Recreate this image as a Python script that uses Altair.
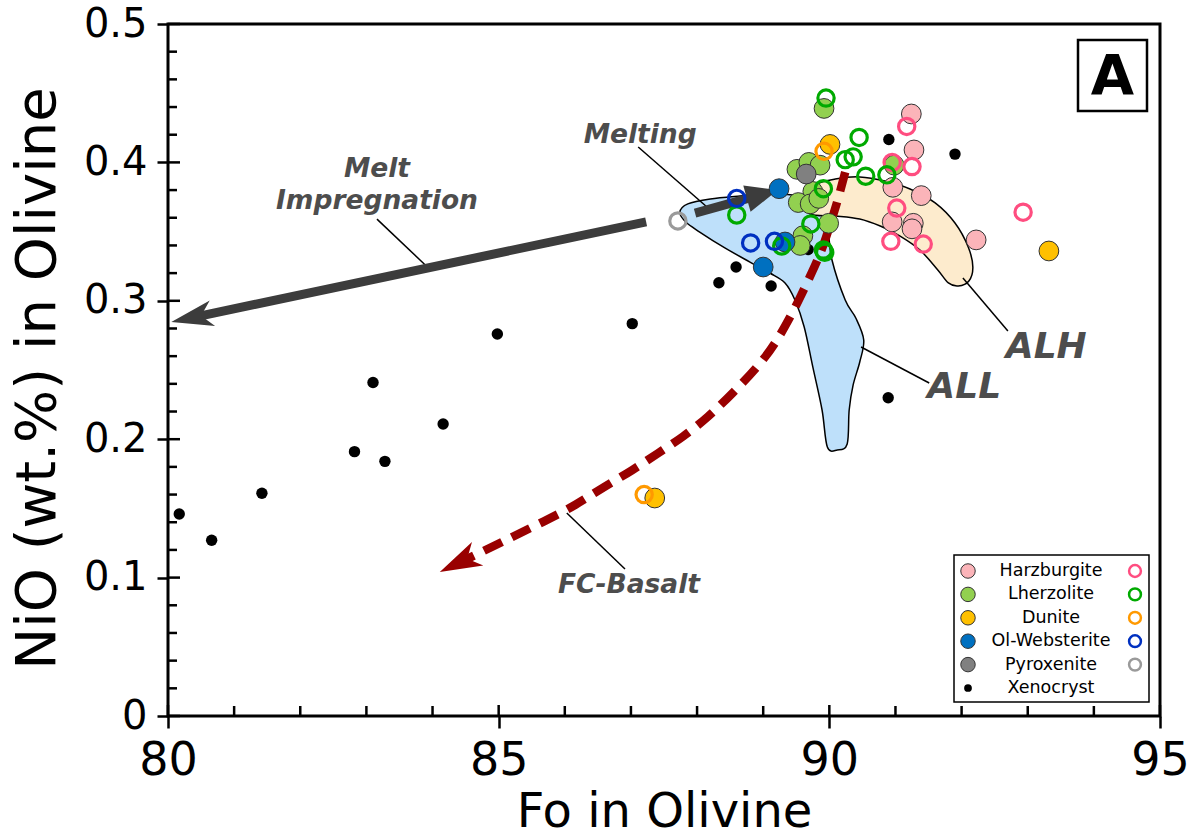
import math
import altair as alt
import pandas as pd

# ------------------------------------------------------------------ data
rock_types = ["Harzburgite", "Lherzolite", "Dunite", "Ol-Websterite", "Pyroxenite"]
fill_colors = ["#FBB4B9", "#92D050", "#FFC000", "#0070C0", "#808080"]
ring_colors = ["#FF4D80", "#00AA00", "#FF9900", "#0030C0", "#9A9A9A"]

harz_filled_fo = [91.24, 91.28, 90.96, 91.39, 90.95, 91.27, 91.25, 92.22]
harz_filled_nio = [0.435, 0.409, 0.382, 0.376, 0.357, 0.356, 0.352, 0.344]
harz_open_fo = [91.17, 90.95, 91.25, 91.02, 90.93, 91.42, 92.93]
harz_open_nio = [0.426, 0.400, 0.397, 0.367, 0.343, 0.341, 0.364]

lherz_filled_fo = [89.92, 89.51, 89.69, 89.86, 90.98, 89.75, 89.53, 89.71, 89.84, 89.99, 89.60, 89.56]
lherz_filled_nio = [0.439, 0.395, 0.400, 0.398, 0.398, 0.379, 0.371, 0.370, 0.374, 0.356, 0.347, 0.340]
lherz_open_fo = [89.95, 90.45, 90.36, 90.24, 90.55, 90.87, 89.91, 88.60, 89.72, 89.28, 89.91, 89.93]
lherz_open_nio = [0.4465, 0.418, 0.404, 0.402, 0.390, 0.391, 0.381, 0.362, 0.3555, 0.3396, 0.3367, 0.335]

dun_filled_fo = [90.01, 87.36, 93.32]
dun_filled_nio = [0.413, 0.1575, 0.336]
dun_open_fo = [89.92, 87.20]
dun_open_nio = [0.408, 0.160]

web_filled_fo = [89.24, 89.33, 89.00]
web_filled_nio = [0.381, 0.3425, 0.3244]
web_open_fo = [88.60, 88.81, 89.17]
web_open_nio = [0.374, 0.3418, 0.343]

pyx_filled_fo = [89.65]
pyx_filled_nio = [0.3916]
pyx_open_fo = [87.71]
pyx_open_nio = [0.3577]

xeno_fo = [80.17, 80.66, 81.42, 82.82, 83.10, 83.28, 84.16, 84.98, 87.02, 88.33,
           88.59, 89.12, 89.68, 90.89, 90.90, 91.90]
xeno_nio = [0.146, 0.127, 0.161, 0.191, 0.241, 0.184, 0.211, 0.276, 0.2835, 0.313,
            0.3244, 0.3107, 0.337, 0.230, 0.4165, 0.406]

# field outlines (ALL = blue, ALH = beige)
all_fo = [87.74, 87.86, 88.20, 88.65, 89.10, 89.56, 89.89, 89.98, 90.04, 90.24, 90.40,
          90.52, 90.46, 90.36, 90.30, 90.27, 90.12, 89.97, 89.89, 89.75, 89.62, 89.48,
          89.33, 89.10, 88.80, 88.42, 88.04, 87.83]
all_nio = [0.364, 0.370, 0.3736, 0.3757, 0.3772, 0.3757, 0.3692, 0.3512, 0.3295, 0.3006,
           0.2876, 0.2717, 0.2558, 0.2392, 0.2211, 0.1965, 0.1922, 0.1944, 0.2211, 0.2522,
           0.2811, 0.3006, 0.3129, 0.3201, 0.3280, 0.3382, 0.3497, 0.3569]
alh_fo = [89.63, 89.78, 90.09, 90.46, 90.84, 91.22, 91.60, 91.90, 92.10, 92.17, 92.11,
          91.95, 91.80, 91.64, 91.37, 91.07, 90.77, 90.46, 90.09, 89.71]
alh_nio = [0.3728, 0.3837, 0.3880, 0.3895, 0.3866, 0.3808, 0.3707, 0.3562, 0.3389, 0.3244,
           0.3143, 0.3107, 0.3129, 0.3223, 0.3367, 0.3468, 0.3540, 0.3591, 0.3613, 0.3627]

# arrows
fc_fo = [90.24, 90.13, 90.01, 89.89, 89.74, 89.57, 89.41, 89.19, 88.92, 88.54, 88.17,
         87.79, 87.41, 87.03, 86.59, 86.17, 85.73, 85.02, 84.11]
fc_nio = [0.393, 0.3728, 0.3548, 0.3367, 0.3208, 0.3035, 0.2883, 0.2695, 0.2522, 0.2334,
          0.2160, 0.2016, 0.1900, 0.1777, 0.1655, 0.1525, 0.1416, 0.125, 0.104]
mi_fo = [87.23, 80.05]
mi_nio = [0.357, 0.2847]
melt_fo = [87.97, 89.22]
melt_nio = [0.3634, 0.380]

# labels
small_labels = ["Melting", "Melt", "Impregnation", "FC-Basalt"]
small_fo = [87.14, 83.16, 83.16, 86.97]
small_nio = [0.4198, 0.3950, 0.3718, 0.0947]
big_labels = ["ALL", "ALH"]
big_fo = [92.04, 93.28]
big_nio = [0.2377, 0.2666]

leader_fo = [87.11, 83.16, 86.03, 90.48, 92.02]
leader_nio = [0.4111, 0.3590, 0.1467, 0.2666, 0.3165]
leader_fo2 = [88.15, 83.89, 86.91, 91.51, 92.70]
leader_nio2 = [0.3678, 0.3259, 0.1062, 0.2406, 0.2782]

x_major = [80, 85, 90, 95]
x_minor = [81, 82, 83, 84, 86, 87, 88, 89, 91, 92, 93, 94]
y_major = [0.0, 0.1, 0.2, 0.3, 0.4, 0.5]
y_minor = [0.02, 0.04, 0.06, 0.08, 0.12, 0.14, 0.16, 0.18, 0.22, 0.24, 0.26, 0.28,
           0.32, 0.34, 0.36, 0.38, 0.42, 0.44, 0.46, 0.48]

legend_names = rock_types + ["Xenocryst"]

# ------------------------------------------------------------------ layout
W, H = 992, 692
FO_MIN, FO_MAX = 80, 95
NIO_MIN, NIO_MAX = 0.0, 0.5
PX_X = W / (FO_MAX - FO_MIN)
PX_Y = H / (NIO_MAX - NIO_MIN)
FONT = "DejaVu Sans"
LABEL_GREY = "#4D4D4D"
ARROW_GREY = "#3C3C3C"
FC_RED = "#990000"

x_scale = alt.Scale(domain=[FO_MIN, FO_MAX], nice=False, zero=False)
y_scale = alt.Scale(domain=[NIO_MIN, NIO_MAX], nice=False, zero=False)

x_axis = alt.Axis(values=x_major, format="d", title="Fo in Olivine", grid=False, domain=False,
                  tickSize=12, tickWidth=2.5, tickColor="black", labelPadding=10,
                  labelFont=FONT, labelFontSize=46, labelColor="black", labelFlush=False,
                  titleFont=FONT, titleFontSize=48, titleFontWeight="normal", titleColor="black",
                  titleBaseline="alphabetic", titleY=110)
y_axis = alt.Axis(values=y_major, format=".1~f", title="NiO (wt.%) in Olivine", grid=False,
                  domain=False, tickSize=11, tickWidth=2.5, tickColor="black", labelPadding=10,
                  labelFont=FONT, labelFontSize=40, labelColor="black", labelFlush=False,
                  titleFont=FONT, titleFontSize=56, titleFontWeight="normal", titleColor="black",
                  titleAngle=270, titleAlign="center", titleBaseline="middle",
                  titleX=-131, titleY=354)


def X(field="Fo"):
    return alt.X(f"{field}:Q", scale=x_scale, axis=x_axis)


def Y(field="NiO"):
    return alt.Y(f"{field}:Q", scale=y_scale, axis=y_axis)


def arrow_parts(fo, nio, shorten_px):
    """Return the shortened shaft table and (tip, angle) for the head."""
    dx = (fo[-1] - fo[-2]) * PX_X
    dy = -(nio[-1] - nio[-2]) * PX_Y
    n = math.hypot(dx, dy)
    ux, uy = dx / n, dy / n
    angle = math.degrees(math.atan2(dx, -dy)) % 360
    shaft_fo = list(fo[:-1]) + [fo[-1] - ux * shorten_px / PX_X]
    shaft_nio = list(nio[:-1]) + [nio[-1] + uy * shorten_px / PX_Y]
    shaft = pd.DataFrame({"Fo": shaft_fo, "NiO": shaft_nio, "i": range(len(shaft_fo))})
    tip = pd.DataFrame({"Fo": [fo[-1]], "NiO": [nio[-1]]})
    return shaft, tip, angle


BARB = "M0,0 L0.62,2 L0,1.45 L-0.62,2 Z"
TRI = "M0,0 L0.85,2 L-0.85,2 Z"

layers = []

# fields
for f_fo, f_nio, col in [(all_fo, all_nio, "#BEE0FA"), (alh_fo, alh_nio, "#FDEBCD")]:
    dfp = pd.DataFrame({"Fo": f_fo, "NiO": f_nio, "i": range(len(f_fo))})
    layers.append(alt.Chart(dfp).mark_line(interpolate="cardinal-closed", fill=col,
                                           stroke="black", strokeWidth=1.5)
                  .encode(x=X(), y=Y(), order="i:Q"))

# leader lines
lead = pd.DataFrame({"Fo": leader_fo, "NiO": leader_nio, "Fo2": leader_fo2, "NiO2": leader_nio2})
layers.append(alt.Chart(lead).mark_rule(color="black", strokeWidth=1.5)
              .encode(x=X(), y=Y(), x2="Fo2:Q", y2="NiO2:Q"))

# arrows
for a_fo, a_nio, col, length, shape, shorten, dash, interp in [
    (mi_fo, mi_nio, ARROW_GREY, 42, BARB, 30, None, "linear"),
    (melt_fo, melt_nio, ARROW_GREY, 32, TRI, 28, None, "linear"),
    (fc_fo, fc_nio, FC_RED, 42, BARB, 28, [20, 11], "basis"),
]:
    shaft, tip, ang = arrow_parts(a_fo, a_nio, shorten)
    kw = dict(color=col, strokeWidth=9 if col == ARROW_GREY else 8.5, interpolate=interp,
              strokeCap="butt")
    if dash:
        kw["strokeDash"] = dash
    layers.append(alt.Chart(shaft).mark_line(**kw).encode(x=X(), y=Y(), order="i:Q"))
    layers.append(alt.Chart(tip).mark_point(shape=shape, filled=True, fill=col, strokeWidth=0,
                                            size=length * length, angle=ang, opacity=1)
                  .encode(x=X(), y=Y()))

# points
rows = []
groups = [
    ("Harzburgite", harz_filled_fo, harz_filled_nio, harz_open_fo, harz_open_nio),
    ("Lherzolite", lherz_filled_fo, lherz_filled_nio, lherz_open_fo, lherz_open_nio),
    ("Dunite", dun_filled_fo, dun_filled_nio, dun_open_fo, dun_open_nio),
    ("Ol-Websterite", web_filled_fo, web_filled_nio, web_open_fo, web_open_nio),
    ("Pyroxenite", pyx_filled_fo, pyx_filled_nio, pyx_open_fo, pyx_open_nio),
]
for rock, ffo, fni, ofo, oni in groups:
    for a, b in zip(ffo, fni):
        rows.append({"rock": rock, "Fo": a, "NiO": b, "style": "filled"})
    for a, b in zip(ofo, oni):
        rows.append({"rock": rock, "Fo": a, "NiO": b, "style": "open"})
pts = pd.DataFrame(rows)
xeno = pd.DataFrame({"Fo": xeno_fo, "NiO": xeno_nio})

fill_scale = alt.Scale(domain=rock_types, range=fill_colors)
ring_scale = alt.Scale(domain=rock_types, range=ring_colors)

layers.append(alt.Chart(xeno).mark_circle(size=130, color="black", opacity=1)
              .encode(x=X(), y=Y()))
layers.append(alt.Chart(pts[pts["style"] == "filled"])
              .mark_point(filled=True, size=390, stroke="#333333", strokeWidth=1, opacity=1)
              .encode(x=X(), y=Y(), fill=alt.Fill("rock:N", scale=fill_scale, legend=None)))
layers.append(alt.Chart(pts[pts["style"] == "open"])
              .mark_point(filled=False, size=265, strokeWidth=3.2, opacity=1)
              .encode(x=X(), y=Y(), stroke=alt.Stroke("rock:N", scale=ring_scale, legend=None)))

# annotation labels
lab_s = pd.DataFrame({"Fo": small_fo, "NiO": small_nio, "label": small_labels})
lab_b = pd.DataFrame({"Fo": big_fo, "NiO": big_nio, "label": big_labels})
for d, fs in [(lab_s, 26.5), (lab_b, 36)]:
    layers.append(alt.Chart(d).mark_text(font=FONT, fontStyle="italic", fontWeight="bold",
                                         fontSize=fs, color=LABEL_GREY, align="center",
                                         baseline="middle")
                  .encode(x=X(), y=Y(), text="label:N"))

# minor / inner ticks
tick_style = dict(color="black", strokeWidth=2.5)
layers.append(alt.Chart(pd.DataFrame({"Fo": x_minor})).mark_rule(**tick_style)
              .encode(x=X(), y=alt.value(H), y2=alt.value(H - 10)))
layers.append(alt.Chart(pd.DataFrame({"Fo": x_major})).mark_rule(**tick_style)
              .encode(x=X(), y=alt.value(H), y2=alt.value(H - 11)))
layers.append(alt.Chart(pd.DataFrame({"NiO": y_minor})).mark_rule(**tick_style)
              .encode(y=Y(), x=alt.value(0), x2=alt.value(9)))
layers.append(alt.Chart(pd.DataFrame({"NiO": y_major})).mark_rule(**tick_style)
              .encode(y=Y(), x=alt.value(0), x2=alt.value(12)))

# legend box (pixel layout inside the plot area)
LB_X0, LB_X1, LB_Y0, LB_Y1 = 786, 981, 531, 678
ROW0, ROW_STEP = 547, 23.4
layers.append(alt.Chart(pd.DataFrame({"k": [0]})).mark_rect(fill="white", stroke="black",
                                                            strokeWidth=1.5)
              .encode(x=alt.value(LB_X0), x2=alt.value(LB_X1), y=alt.value(LB_Y0),
                      y2=alt.value(LB_Y1)))


def px_to_fo(px):
    return FO_MIN + px / PX_X


def py_to_nio(py):
    return NIO_MAX - py / PX_Y


leg = pd.DataFrame({
    "name": legend_names,
    "NiO": [py_to_nio(ROW0 + ROW_STEP * i) for i in range(len(legend_names))],
})
leg["Fo_fill"] = px_to_fo(800)
leg["Fo_text"] = px_to_fo(883)
leg["Fo_ring"] = px_to_fo(967)
leg_rocks = leg[leg["name"] != "Xenocryst"]
leg_x = leg[leg["name"] == "Xenocryst"]

layers.append(alt.Chart(leg_rocks).mark_point(filled=True, size=210, stroke="#333333",
                                              strokeWidth=1, opacity=1)
              .encode(x=X("Fo_fill"), y=Y(),
                      fill=alt.Fill("name:N", scale=fill_scale, legend=None)))
layers.append(alt.Chart(leg_rocks).mark_point(filled=False, size=140, strokeWidth=2.5, opacity=1)
              .encode(x=X("Fo_ring"), y=Y(),
                      stroke=alt.Stroke("name:N", scale=ring_scale, legend=None)))
layers.append(alt.Chart(leg_x).mark_circle(size=60, color="black", opacity=1)
              .encode(x=X("Fo_fill"), y=Y()))
layers.append(alt.Chart(leg).mark_text(font=FONT, fontSize=17.5, color="black", align="center",
                                       baseline="middle")
              .encode(x=X("Fo_text"), y=Y(), text="name:N"))

# panel letter
layers.append(alt.Chart(pd.DataFrame({"k": [0]})).mark_rect(fill="white", stroke="black",
                                                            strokeWidth=2.5)
              .encode(x=alt.value(910), x2=alt.value(979), y=alt.value(16), y2=alt.value(87)))
layers.append(alt.Chart(pd.DataFrame({"k": [0]})).mark_text(text="A", font=FONT,
                                                            fontWeight="bold", fontSize=56,
                                                            color="black", align="center",
                                                            baseline="middle")
              .encode(x=alt.value(944.5), y=alt.value(53)))

chart = (alt.layer(*layers)
         .properties(width=W, height=H, autosize=alt.AutoSizeParams(type="none"),
                     padding={"left": 168, "top": 24, "right": 35, "bottom": 120},
                     background="white")
         .configure_view(stroke="black", strokeWidth=3))

chart.save("out.html", embed_options={"renderer": "svg", "actions": False})
